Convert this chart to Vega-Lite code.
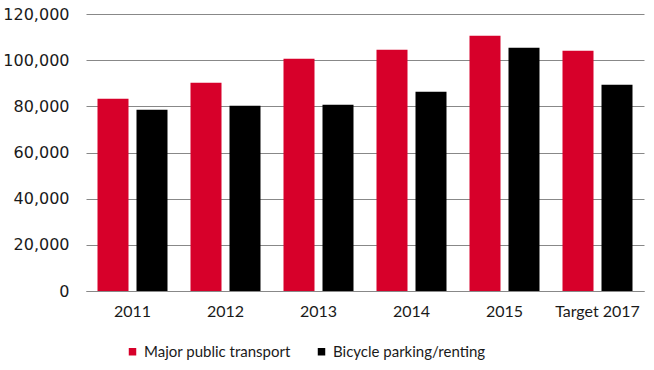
{
  "$schema": "https://vega.github.io/schema/vega-lite/v6.json",
  "autosize": {"type": "none"},
  "padding": {"left": 86, "top": 14, "right": 10, "bottom": 79},
  "width": 558,
  "height": 277,
  "background": "white",
  "config": {
    "view": {"stroke": null},
    "font": "Lato",
    "axis": {"labelFont": "Lato", "labelFontSize": 16, "labelColor": "#1a1a1a"},
    "legend": {"labelFont": "Lato", "labelFontSize": 15, "labelColor": "#1a1a1a"}
  },
  "data": {
    "values": [
      {"year": "2011", "series": "Major public transport", "value": 83300},
      {"year": "2011", "series": "Bicycle parking/renting", "value": 78500},
      {"year": "2012", "series": "Major public transport", "value": 90200},
      {"year": "2012", "series": "Bicycle parking/renting", "value": 80200},
      {"year": "2013", "series": "Major public transport", "value": 100600},
      {"year": "2013", "series": "Bicycle parking/renting", "value": 80700},
      {"year": "2014", "series": "Major public transport", "value": 104500},
      {"year": "2014", "series": "Bicycle parking/renting", "value": 86300},
      {"year": "2015", "series": "Major public transport", "value": 110600},
      {"year": "2015", "series": "Bicycle parking/renting", "value": 105400},
      {"year": "Target 2017", "series": "Major public transport", "value": 104100},
      {"year": "Target 2017", "series": "Bicycle parking/renting", "value": 89300}
    ]
  },
  "mark": {"type": "bar"},
  "encoding": {
    "x": {
      "field": "year", "type": "nominal", "sort": null,
      "scale": {"paddingInner": 0, "paddingOuter": 0},
      "axis": {"title": null, "labelAngle": 0, "ticks": false, "domainColor": "#888888", "domainWidth": 1, "labelPadding": 12, "grid": false}
    },
    "xOffset": {
      "field": "series", "type": "nominal",
      "sort": ["Major public transport", "Bicycle parking/renting"],
      "scale": {"paddingInner": 0.205, "paddingOuter": 0.295}
    },
    "y": {
      "field": "value", "type": "quantitative",
      "scale": {"domain": [0, 120000]},
      "axis": {"title": null, "values": [0, 20000, 40000, 60000, 80000, 100000, 120000], "format": ",.0f", "labelOverlap": false, "labelFont": "DejaVu Sans", "labelFontSize": 16, "ticks": false, "domain": false, "gridColor": "#888888", "gridWidth": 1, "labelPadding": 17}
    },
    "color": {
      "field": "series", "type": "nominal",
      "sort": ["Major public transport", "Bicycle parking/renting"],
      "scale": {"domain": ["Major public transport", "Bicycle parking/renting"], "range": ["#d7002a", "#000000"]},
      "legend": {"title": null, "orient": "none", "legendX": 39, "legendY": 330, "direction": "horizontal", "symbolType": "square", "symbolSize": 56, "symbolStrokeWidth": 0, "columnPadding": 23, "labelOffset": 4, "labelLimit": 0}
    }
  }
}
